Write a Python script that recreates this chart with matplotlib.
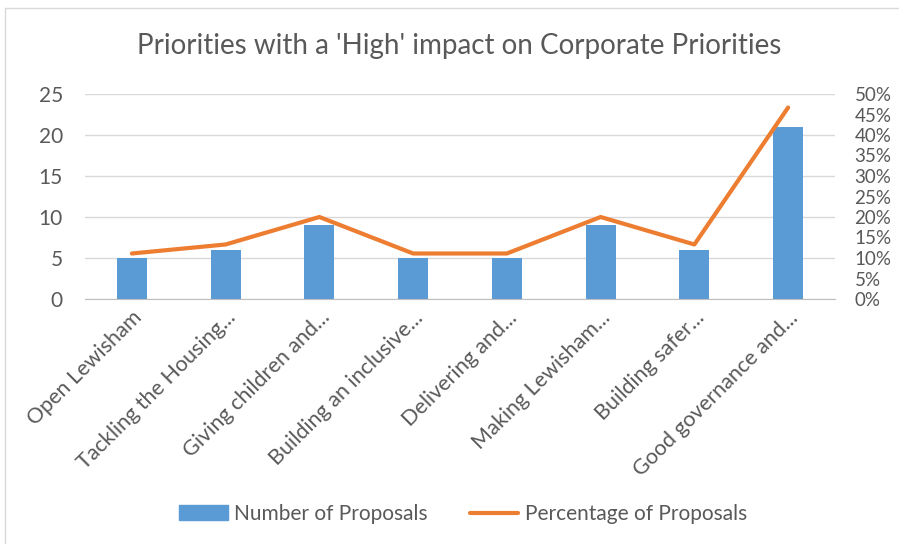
import numpy as np
import matplotlib.pyplot as plt
from matplotlib.patches import Rectangle, Patch
from matplotlib.lines import Line2D

plt.rcParams['font.family'] = ['Lato', 'DejaVu Sans']

categories = ['Open Lewisham', 'Tackling the Housing...', 'Giving children and...',
              'Building an inclusive...', 'Delivering and...', 'Making Lewisham...',
              'Building safer...', 'Good governance and...']
numProposals = [5, 6, 9, 5, 5, 9, 6, 21]
pctProposals = [0.111, 0.133, 0.20, 0.111, 0.111, 0.20, 0.133, 0.467]
leftTicks = [0, 5, 10, 15, 20, 25]
rightTicks = [0, 0.05, 0.10, 0.15, 0.20, 0.25, 0.30, 0.35, 0.40, 0.45, 0.50]

textColor = '#595959'
barColor = '#5B9BD5'
lineColor = '#ED7D31'

fig = plt.figure(figsize=(8.99, 5.44), dpi=100)
# chart frame: only the left and top edges fall inside the picture
fig.patches.append(Rectangle((5/899, -0.05), 1.0, 1-8/544+0.05, transform=fig.transFigure,
                             fill=False, edgecolor='#d9d9d9', linewidth=1))

ax = fig.add_axes([85/899, 1-299/544, 750/899, 205/544])
x = np.arange(len(categories))
ax.bar(x, numProposals, width=0.32, color=barColor, zorder=2)
ax.set_xlim(-0.5, len(categories)-0.5)
ax.set_ylim(0, 25)
ax.set_yticks(leftTicks)
ax.yaxis.grid(True, color='#d9d9d9', linewidth=1)
ax.set_axisbelow(True)
for s in ['top', 'left', 'right']:
    ax.spines[s].set_visible(False)
ax.spines['bottom'].set_color('#bfbfbf')
ax.tick_params(axis='both', length=0, labelsize=15, colors=textColor)
ax.tick_params(axis='y', pad=16)
ax.tick_params(axis='x', labelsize=15.5, pad=6)
ax.set_xticks(x)
ax.set_xticklabels(categories, rotation=45, ha='right', rotation_mode='anchor')

ax2 = ax.twinx()
ax2.plot(x, pctProposals, color=lineColor, linewidth=3, solid_capstyle='round', zorder=3)
ax2.set_ylim(0, 0.5)
ax2.set_yticks(rightTicks)
ax2.set_yticklabels([f'{int(round(t*100))}%' for t in rightTicks])
for s in ['top', 'left', 'right', 'bottom']:
    ax2.spines[s].set_visible(False)
ax2.tick_params(axis='y', length=0, labelsize=13.5, colors=textColor, pad=14)

fig.text(459/899, 1-46/544, "Priorities with a 'High' impact on Corporate Priorities",
         ha='center', va='center', fontsize=20, color=textColor)

handles = [Patch(color=barColor), Line2D([0], [0], color=lineColor, linewidth=3, solid_capstyle='round')]
fig.legend(handles, ['Number of Proposals', 'Percentage of Proposals'], loc='center',
           bbox_to_anchor=(463/899, 1-514/544), ncol=2, frameon=False, fontsize=15,
           labelcolor=textColor, handlelength=2.35, columnspacing=2.0, handletextpad=0.3)

plt.savefig('out.png', dpi=100)
